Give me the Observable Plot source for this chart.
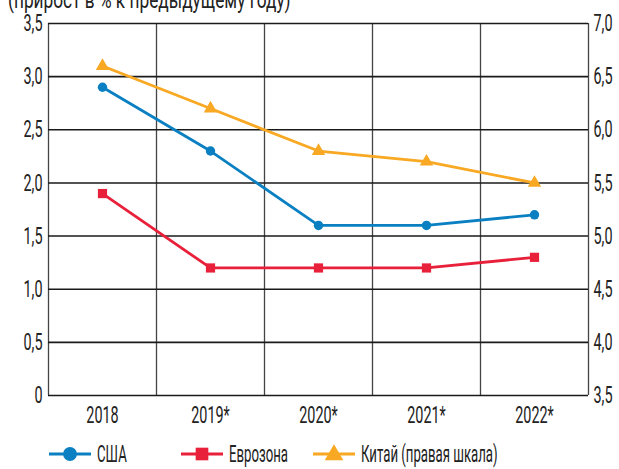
<!DOCTYPE html>
<html><head><meta charset="utf-8">
<script src="https://cdn.jsdelivr.net/npm/d3@7"></script>
<script src="https://cdn.jsdelivr.net/npm/@observablehq/plot@0.6"></script>
<style>
body{margin:0;background:#fff;width:619px;height:469px;overflow:hidden;position:relative;font-family:Roboto,"DejaVu Sans",sans-serif;color:#222}
#title{position:absolute;left:8px;top:-14px;font-size:24px;white-space:nowrap;transform:scaleX(0.72);transform-origin:0 0}
#chart{position:absolute;left:0;top:0}
#legend{position:absolute;left:0;top:432px;width:619px;height:37px}
.item{position:absolute;top:8px;display:flex;align-items:center;font-size:24px;white-space:nowrap}
.item svg{margin-right:5px}
.item span{display:inline-block;transform:scaleX(0.55);transform-origin:0 50%}
</style></head><body>
<div id="title">(прирост в % к предыдущему году)</div>
<div id="chart"></div>
<div id="legend"></div>
<script>
const years = ["2018","2019*","2020*","2021*","2022*"];
const usa = [2.9, 2.3, 1.6, 1.6, 1.7];
const euro = [1.9, 1.2, 1.2, 1.2, 1.3];
const china = [6.6, 6.2, 5.8, 5.7, 5.5]; // right scale
const rightOffset = 3.5; // right axis = left axis + 3.5
const leftTicks = [0,0.5,1,1.5,2,2.5,3,3.5];
const seriesNames = ["США","Еврозона","Китай (правая шкала)"];
const colors = ["#0a80c2","#e8203a","#f8a822"];
const symbols = ["circle","square","triangle"];

const fmt = d => d === 0 ? "0" : d.toFixed(1).replace(".", ",");
const font = `Roboto,"DejaVu Sans",sans-serif`;
const SX = 0.6;

const rows = [];
years.forEach((y,i)=>{
  rows.push({i, year:y, s:0, v:usa[i]});
  rows.push({i, year:y, s:1, v:euro[i]});
  rows.push({i, year:y, s:2, v:china[i]-rightOffset});
});
const bounds = d3.range(years.length+1).map(k=>k-0.5);

const plot = Plot.plot({
  width: 619, height: 430,
  marginTop: 23, marginBottom: 35, marginLeft: 48, marginRight: 31,
  style: {fontFamily: font, fontSize: "24px", color: "#222", background: "transparent"},
  x: {domain: [-0.5, years.length-0.5]},
  y: {domain: [0, 3.5]},
  marks: [
    Plot.ruleX(bounds, {x: d=>d, stroke: "#444", strokeWidth: 1.3}),
    Plot.ruleY(leftTicks, {y: d=>d, stroke: "#1a1a1a", strokeWidth: 1.6}),
    Plot.axisX({ticks: d3.range(years.length), tickFormat: i=>years[i], tickSize: 0, tickPadding: 10, label: null, fontSize: 24}),
    Plot.axisY({ticks: leftTicks, tickFormat: fmt, tickSize: 0, tickPadding: 6, label: null, fontSize: 24}),
    Plot.axisY({anchor: "right", ticks: leftTicks, tickFormat: d=>fmt(d+rightOffset), tickSize: 0, tickPadding: 5, label: null, fontSize: 24}),
    ...[0,1,2].map(s => Plot.line(rows.filter(r=>r.s===s), {x:"i", y:"v", stroke: colors[s], strokeWidth: 2.8})),
    ...[0,1,2].map(s => Plot.dot(rows.filter(r=>r.s===s), {x:"i", y:"v", fill: colors[s], symbol: symbols[s], r: s===0?4.7:(s===1?5.2:5)}))
  ]
});
// condense text horizontally around each label's anchor
plot.querySelectorAll("text").forEach(t => {
  const ax = parseFloat(t.getAttribute("x")) || 0;
  const tr = t.getAttribute("transform") || "";
  t.setAttribute("transform", `${tr} translate(${ax},0) scale(${SX},1) translate(${-ax},0)`);
});
document.getElementById("chart").appendChild(plot);

// legend
const legend = document.getElementById("legend");
const lx = [48, 180, 312];
seriesNames.forEach((name, s) => {
  const div = document.createElement("div");
  div.className = "item";
  div.style.left = lx[s] + "px";
  const svg = d3.create("svg").attr("width", 44).attr("height", 24);
  svg.append("line").attr("x1",1).attr("x2",43).attr("y1",12).attr("y2",12).attr("stroke",colors[s]).attr("stroke-width",3);
  const sym = [d3.symbolCircle, d3.symbolSquare, d3.symbolTriangle][s];
  const size = [150, 160, 150][s];
  svg.append("path").attr("d", d3.symbol(sym, size)()).attr("transform", `translate(22,${s===2?13:12})`).attr("fill", colors[s]);
  div.appendChild(svg.node());
  const t = document.createElement("span");
  t.textContent = name;
  div.appendChild(t);
  legend.appendChild(div);
});
</script>
</body></html>
